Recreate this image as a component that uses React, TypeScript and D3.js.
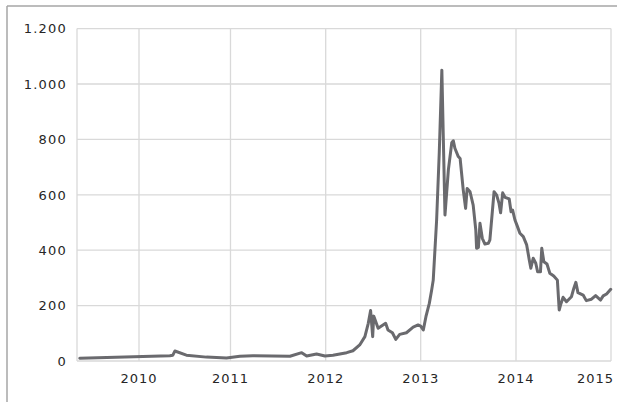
import React from "react";
import * as d3 from "d3";

// ---- data ----
const dates: string[] = [
  "2009-05-10","2010-05-04","2010-05-16","2010-05-24","2010-07-09","2010-09-27","2010-12-16",
  "2011-02-06","2011-03-28","2011-08-17","2011-10-01","2011-10-20","2011-11-27","2011-12-29",
  "2012-01-29","2012-03-22","2012-04-15","2012-05-11","2012-05-31","2012-06-13","2012-06-22",
  "2012-06-30","2012-07-04","2012-07-12","2012-07-21","2012-08-03","2012-08-19","2012-08-28",
  "2012-09-14","2012-09-27","2012-10-12","2012-11-07","2012-12-03","2012-12-22","2013-01-01",
  "2013-01-11","2013-01-21","2013-02-03","2013-02-12","2013-02-18","2013-03-03","2013-03-13",
  "2013-03-23","2013-04-04","2013-04-17","2013-04-30","2013-05-06","2013-05-12","2013-05-25",
  "2013-06-01","2013-06-13","2013-06-22","2013-06-28","2013-07-09","2013-07-21","2013-07-31",
  "2013-08-03","2013-08-10","2013-08-16","2013-08-25","2013-09-04","2013-09-17","2013-09-23",
  "2013-10-09","2013-10-19","2013-10-28","2013-11-03","2013-11-11","2013-11-20","2013-12-06",
  "2013-12-13","2013-12-19","2013-12-28","2014-01-06","2014-01-16","2014-01-29","2014-02-11",
  "2014-02-21","2014-02-27","2014-03-08","2014-03-18","2014-03-25","2014-04-05","2014-04-10",
  "2014-04-18","2014-04-30","2014-05-11","2014-05-26","2014-06-09","2014-06-16","2014-06-21",
  "2014-07-01","2014-07-14","2014-08-02","2014-08-11","2014-08-19","2014-08-27","2014-09-16",
  "2014-09-28","2014-10-18","2014-11-03","2014-11-22","2014-12-02","2014-12-15","2014-12-31",
];
const prices: number[] = [
  10, 19, 21, 36, 21, 14, 11,
  17, 19, 17, 30, 18, 25, 18,
  21, 30, 37, 58, 88, 136, 182,
  88, 162, 142, 118, 126, 136, 112,
  102, 78, 96, 102, 122, 130, 126,
  112, 160, 208, 256, 292, 509, 750,
  1050, 527, 690, 788, 795, 768, 738,
  731, 617, 551, 623, 611, 563, 473,
  407, 410, 497, 443, 422, 425, 437,
  611, 599, 569, 535, 607, 591, 585,
  539, 545, 509, 487, 461, 449, 419,
  365, 335, 371, 353, 322, 322, 407,
  358, 350, 317, 307, 292, 184, 202,
  230, 214, 232, 262, 284, 247, 238,
  218, 223, 236, 220, 235, 242, 259,
];
const yTicks: number[] = [0, 200, 400, 600, 800, 1000, 1200];
const xTickYears: number[] = [2010, 2011, 2012, 2013, 2014, 2015];

const W = 617;
const H = 402;
const startDate = new Date(2009, 3, 29);

export default function App() {
  const parse = d3.timeParse("%Y-%m-%d");
  const points = dates.map((d, i) => ({ date: parse(d) as Date, value: prices[i] }));

  const x = d3
    .scaleTime()
    .domain([startDate, ...xTickYears.map((y) => new Date(y, 0, 1))])
    .range([77, 139, 230.5, 325.7, 420.7, 516, 611]);
  const y = d3.scaleLinear().domain([0, 1200]).range([361, 28.6]);

  const locale = d3.formatLocale({ decimal: ",", thousands: ".", grouping: [3], currency: ["", ""] });
  const fmt = locale.format(",");

  const line = d3
    .line<{ date: Date; value: number }>()
    .x((d) => x(d.date))
    .y((d) => y(d.value))
    .curve(d3.curveLinear);

  const [x0, x1] = [77, 611];
  const gridColor = "#d9d9d9";
  const font = "'DejaVu Sans', Verdana, sans-serif";

  return (
    <svg width={W} height={H} style={{ position: "absolute", left: 0, top: 0, background: "#fff" }}>
      <rect x={0} y={0} width={W} height={H} fill="#fff" />
      {/* outer frame */}
      <line x1={7} y1={6} x2={W} y2={6} stroke="#a6a6a6" strokeWidth={1.5} />
      <line x1={7} y1={6} x2={7} y2={H} stroke="#a6a6a6" strokeWidth={1.5} />

      {/* horizontal gridlines */}
      {yTicks.map((t) => (
        <line key={"h" + t} x1={x0} x2={x1} y1={y(t)} y2={y(t)} stroke={gridColor} strokeWidth={1.3} />
      ))}
      {/* vertical gridlines */}
      <line x1={x0} x2={x0} y1={y(1200)} y2={y(0)} stroke={gridColor} strokeWidth={1.3} />
      {xTickYears.map((yr) => {
        const px = x(new Date(yr, 0, 1));
        return <line key={"v" + yr} x1={px} x2={px} y1={y(1200)} y2={y(0)} stroke={gridColor} strokeWidth={1.3} />;
      })}

      {/* y labels */}
      {yTicks.map((t) => (
        <text
          key={"yl" + t}
          x={67}
          y={y(t) + 4.8}
          textAnchor="end"
          fontFamily={font}
          fontSize={13}
          letterSpacing={1.2}
          fill="#262626"
        >
          {fmt(t)}
        </text>
      ))}

      {/* x labels */}
      {xTickYears.map((yr, i) => {
        const px = x(new Date(yr, 0, 1));
        const last = i === xTickYears.length - 1;
        return (
          <text
            key={"xl" + yr}
            x={last ? px + 3 : px}
            y={383}
            textAnchor={last ? "end" : "middle"}
            fontFamily={font}
            fontSize={13}
            letterSpacing={1}
            fill="#262626"
          >
            {yr}
          </text>
        );
      })}

      {/* price line */}
      <path d={line(points) || ""} fill="none" stroke="#6a6a6e" strokeWidth={3} strokeLinejoin="round" strokeLinecap="round" />
    </svg>
  );
}
